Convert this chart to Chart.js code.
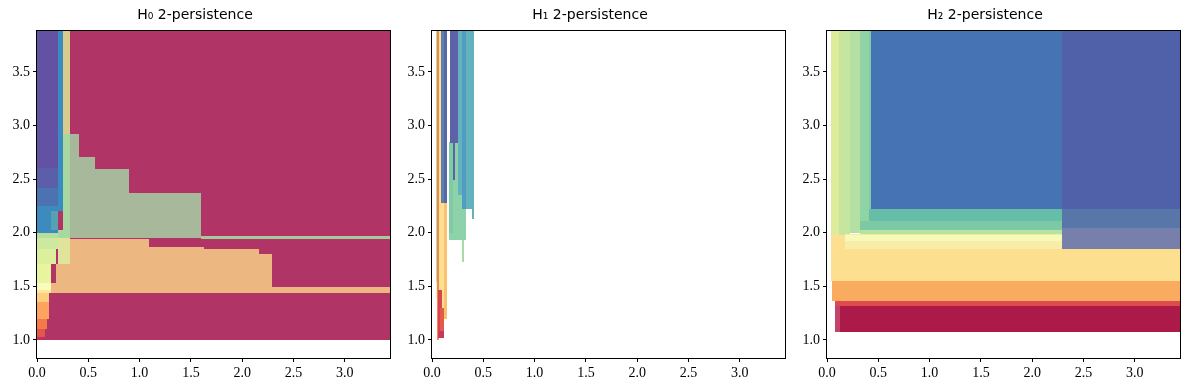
<!DOCTYPE html>
<html>
<head>
<meta charset="utf-8">
<script src="https://cdn.jsdelivr.net/npm/chart.js@4.4.0/dist/chart.umd.min.js"></script>
<style>
  html, body { margin: 0; padding: 0; background: #fff; }
  #wrap { position: relative; width: 1189px; height: 390px; }
  canvas { position: absolute; top: 0; }
</style>
</head>
<body>
<div id="wrap">
  <canvas id="h0" width="395" height="390" style="left:0"></canvas>
  <canvas id="h1" width="395" height="390" style="left:395px"></canvas>
  <canvas id="h2" width="395" height="390" style="left:790px"></canvas>
</div>
<script>
// axis ranges + ticks (same for all three panels)
var xRange = [0, 3.44];
var yRange = [0.832, 3.883];
var tickStep = 0.5;
var titles = ['H₀ 2-persistence', 'H₁ 2-persistence', 'H₂ 2-persistence'];

// boxes: [x0, x1, y0, y1], drawn in order (later ones on top)
var h0Boxes = [
  [0, 3.44, 1.0, 3.883],
  [0, 0.205, 2.6, 3.883],
  [0, 0.205, 2.42, 2.6],
  [0, 0.205, 2.25, 2.42],
  [0, 0.205, 2.0, 2.25],
  [0.14, 0.205, 2.03, 2.2],
  [0.205, 0.253, 2.2, 3.883],
  [0.253, 0.318, 2.918, 3.883],
  [0.253, 0.318, 1.95, 2.918],
  [0.205, 0.253, 1.95, 2.03],
  [0.318, 0.406, 1.955, 2.918],
  [0.406, 0.562, 1.955, 2.704],
  [0.562, 0.893, 1.955, 2.595],
  [0.893, 1.594, 1.955, 2.372],
  [1.594, 3.44, 1.945, 1.972],
  [0.318, 1.088, 1.434, 1.945],
  [1.088, 1.623, 1.434, 1.863],
  [1.623, 2.159, 1.434, 1.851],
  [2.159, 2.286, 1.434, 1.804],
  [2.286, 3.44, 1.434, 1.49],
  [0.182, 0.318, 1.434, 1.708],
  [0.14, 0.182, 1.434, 1.53],
  [0.205, 0.318, 1.708, 1.95],
  [0, 0.205, 1.95, 2.0],
  [0, 0.205, 1.85, 1.95],
  [0, 0.182, 1.71, 1.85],
  [0, 0.14, 1.53, 1.71],
  [0, 0.14, 1.47, 1.53],
  [0, 0.14, 1.434, 1.47],
  [0, 0.12, 1.35, 1.434],
  [0, 0.117, 1.2, 1.35],
  [0, 0.1, 1.1, 1.2],
  [0, 0.075, 1.03, 1.1],
  [0, 0.06, 1.0, 1.03]
];
var h0Colors = [
  '#b03466', '#6351a3', '#5b5fa9', '#4c72b0', '#3d8abe', '#54a3b3', '#3a8cc0',
  '#d6cc8e', '#a8d8a0', '#a8d8a0',
  '#a8b99b', '#a8b99b', '#a8b99b', '#a8b99b', '#a5c99b',
  '#edb782', '#edb782', '#edb782', '#edb782', '#edb782', '#edb782', '#edb782',
  '#dfe39c',
  '#b5de9f', '#cde9a0', '#dcef9c', '#e8f59e', '#fafcbe', '#fee59a', '#fdce7e',
  '#fba35f', '#f47a4c', '#e4554a', '#c8305a'
];

var h1Boxes = [
  [0.036, 0.062, 1.54, 3.883],
  [0.036, 0.062, 1.38, 1.54],
  [0.062, 0.107, 1.2, 3.883],
  [0.091, 0.117, 1.2, 2.276],
  [0.117, 0.149, 1.2, 2.276],
  [0.091, 0.117, 2.276, 3.883],
  [0.117, 0.149, 2.276, 3.883],
  [0.052, 0.064, 1.0, 3.883],
  [0.055, 0.1, 1.02, 1.47],
  [0.08, 0.12, 1.05, 1.3],
  [0.07, 0.12, 1.02, 1.08],
  [0.162, 0.334, 1.928, 2.834],
  [0.162, 0.2, 2.0, 2.85],
  [0.179, 0.253, 2.834, 3.883],
  [0.205, 0.222, 2.49, 2.834],
  [0.253, 0.406, 2.223, 3.883],
  [0.253, 0.295, 2.223, 2.35],
  [0.295, 0.334, 2.223, 3.883],
  [0.393, 0.406, 2.13, 2.223],
  [0.295, 0.315, 1.723, 1.928]
];
var h1Colors = [
  '#b9df9f', '#f4f5b0', '#fde08d', '#fde08d', '#fdbf70', '#5b80b4', '#5767aa',
  '#f2855a', '#d8454f', '#e35a4b', '#c43a5e',
  '#8dd2a8', '#7fcba5', '#5e60a8', '#5e60a8',
  '#64b2be', '#8dd2a8', '#4f9dc0', '#64b2be', '#a8dba2'
];

var h2Boxes = [
  [0.036, 0.117, 1.975, 3.883],
  [0.117, 0.221, 1.975, 3.883],
  [0.221, 0.318, 2.0, 3.883],
  [0.318, 0.41, 2.0, 3.883],
  [0.41, 0.43, 2.0, 3.883],
  [0.036, 3.44, 1.546, 1.975],
  [0.172, 2.286, 1.85, 1.985],
  [0.172, 2.286, 1.92, 1.98],
  [0.41, 2.286, 2.105, 2.22],
  [0.318, 2.286, 2.027, 2.105],
  [0.318, 2.286, 1.99, 2.027],
  [0.3, 2.286, 1.975, 1.99],
  [0.425, 2.286, 2.22, 3.883],
  [2.286, 3.44, 2.22, 3.883],
  [2.286, 3.44, 2.043, 2.22],
  [2.286, 3.44, 1.85, 2.043],
  [0.049, 3.44, 1.36, 1.546],
  [0.075, 3.44, 1.32, 1.36],
  [0.123, 3.44, 1.074, 1.32],
  [0.075, 0.123, 1.078, 1.32]
];
var h2Colors = [
  '#dcec9a', '#c6e6a0', '#b4e0a4', '#90d4a6', '#7ecba4',
  '#fcdf8f', '#f7eca8', '#f7f9b8',
  '#66bea9', '#7ccaa5', '#b7e2a2', '#e3f1a0',
  '#4673b3', '#5061a9', '#5877a8', '#7780aa',
  '#f9ab5f', '#df4a4f', '#ac1a4a', '#c3446b'
];

var tickFont = { family: 'Liberation Serif', size: 14 };

function makePanel(id, title, boxes, colors) {
  var boxPlugin = {
    id: 'boxes_' + id,
    beforeDatasetsDraw: function(chart) {
      var ctx = chart.ctx, a = chart.chartArea;
      var xs = chart.scales.x, ys = chart.scales.y;
      ctx.save();
      ctx.beginPath();
      ctx.rect(a.left, a.top, a.right - a.left, a.bottom - a.top);
      ctx.clip();
      boxes.forEach(function(b, i) {
        // snap to whole pixels so neighbouring boxes don't leave seams
        var px0 = Math.round(xs.getPixelForValue(b[0])), px1 = Math.round(xs.getPixelForValue(b[1]));
        var py0 = Math.round(ys.getPixelForValue(b[2])), py1 = Math.round(ys.getPixelForValue(b[3]));
        ctx.fillStyle = colors[i];
        ctx.fillRect(px0, py1, px1 - px0, py0 - py1);
      });
      ctx.restore();
    },
    afterDraw: function(chart) {
      var ctx = chart.ctx, a = chart.chartArea;
      ctx.save();
      ctx.strokeStyle = '#000';
      ctx.lineWidth = 1;
      var l = Math.round(a.left) - 0.5, t = Math.round(a.top) - 0.5;
      var r = Math.round(a.right) + 0.5, btm = Math.round(a.bottom) + 0.5;
      ctx.strokeRect(l, t, r - l, btm - t);
      ctx.restore();
    }
  };

  return new Chart(document.getElementById(id), {
    type: 'scatter',
    data: { datasets: [] },
    options: {
      responsive: false,
      animation: false,
      layout: { padding: { left: 0, right: 5, top: 0, bottom: 0 } },
      plugins: {
        legend: { display: false },
        tooltip: { enabled: false },
        title: {
          display: true,
          text: title,
          color: '#000',
          font: { family: 'DejaVu Sans', size: 14, weight: 'normal' },
          padding: { top: 7, bottom: 7 }
        }
      },
      scales: {
        x: {
          type: 'linear',
          min: xRange[0],
          max: xRange[1],
          afterFit: function(s) { s.height = 32; },
          border: { display: false },
          grid: { drawOnChartArea: false, drawTicks: true, tickLength: 4, color: '#000' },
          ticks: {
            stepSize: tickStep,
            includeBounds: false,
            maxRotation: 0,
            padding: 3,
            color: '#000',
            font: tickFont,
            callback: function(v) { return v.toFixed(1); }
          }
        },
        y: {
          type: 'linear',
          min: yRange[0],
          max: yRange[1],
          afterFit: function(s) { s.width = 37; },
          border: { display: false },
          grid: { drawOnChartArea: false, drawTicks: true, tickLength: 4, color: '#000' },
          ticks: {
            stepSize: tickStep,
            includeBounds: false,
            padding: 3,
            color: '#000',
            font: tickFont,
            callback: function(v) { return v.toFixed(1); }
          }
        }
      }
    },
    plugins: [boxPlugin]
  });
}

makePanel('h0', titles[0], h0Boxes, h0Colors);
makePanel('h1', titles[1], h1Boxes, h1Colors);
makePanel('h2', titles[2], h2Boxes, h2Colors);
</script>
</body>
</html>
